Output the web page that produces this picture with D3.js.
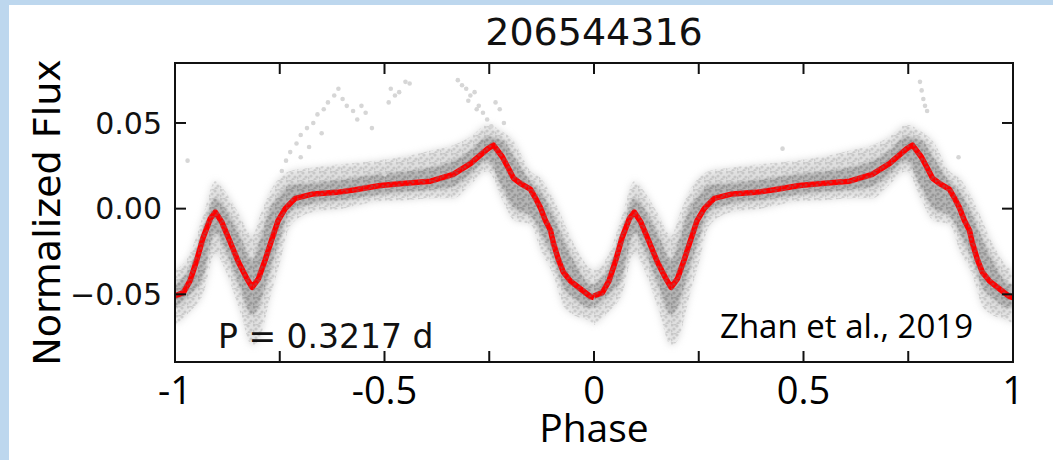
<!DOCTYPE html>
<html>
<head>
<meta charset="utf-8">
<script src="https://cdn.jsdelivr.net/npm/d3@7"></script>
<style>
	body { margin: 0; background: #bdd7ee; }
	#graphic { position: absolute; left: 9px; top: 5px; width: 1044px; height: 455px; background: #fff; }
	svg { position: absolute; left: -9px; top: -5px; }
</style>
</head>
<body>
<div id="graphic"></div>
<script>
// one folded cycle of the binned light curve (phase 0..1), drawn at offsets -1 and 0
const cyclePhase = [0, 0.02, 0.036, 0.052, 0.067, 0.084, 0.096, 0.112, 0.131, 0.151, 0.172, 0.184, 0.199, 0.215, 0.231, 0.246, 0.263, 0.287, 0.33, 0.387, 0.43, 0.49, 0.55, 0.61, 0.664, 0.705, 0.746, 0.76, 0.781, 0.796, 0.808, 0.824, 0.848, 0.86, 0.872, 0.884, 0.896, 0.903, 0.915, 0.927, 0.944, 0.968, 0.992, 1];
const binnedFlux = [-0.051, -0.049, -0.042, -0.03, -0.017, -0.006, -0.002, -0.008, -0.019, -0.031, -0.041, -0.046, -0.041, -0.03, -0.018, -0.007, 0, 0.006, 0.0086, 0.0095, 0.011, 0.0135, 0.0148, 0.016, 0.02, 0.0263, 0.0349, 0.0371, 0.0303, 0.0234, 0.0177, 0.0148, 0.0114, 0.0063, 0.0006, -0.0069, -0.0126, -0.02, -0.0297, -0.0371, -0.0423, -0.0469, -0.0514, -0.052];

// extent of the raw photometry cloud for the same cycle
const cloudPhase = [0, 0.036, 0.067, 0.096, 0.12, 0.155, 0.184, 0.203, 0.227, 0.25, 0.275, 0.33, 0.4, 0.48, 0.56, 0.61, 0.664, 0.705, 0.746, 0.781, 0.81, 0.848, 0.872, 0.903, 0.927, 0.951, 0.992, 1];
const outerLo = [-0.068, -0.06, -0.05, -0.026, -0.036, -0.06, -0.08, -0.075, -0.052, -0.032, -0.01, -0.002, 0, 0.004, 0.005, 0.006, 0.006, 0.014, 0.022, 0.005, -0.007, -0.009, -0.024, -0.039, -0.057, -0.062, -0.066, -0.068];
const outerHi = [-0.036, -0.026, -0.004, 0.016, 0.01, -0.004, -0.016, -0.004, 0.01, 0.018, 0.022, 0.024, 0.026, 0.028, 0.031, 0.034, 0.037, 0.042, 0.049, 0.045, 0.039, 0.022, 0.018, 0.006, -0.007, -0.02, -0.035, -0.036];
const innerLo = [-0.058, -0.05, -0.04, -0.014, -0.024, -0.046, -0.062, -0.055, -0.036, -0.018, -0.002, 0.003, 0.005, 0.008, 0.01, 0.011, 0.013, 0.02, 0.028, 0.012, 0, -0.004, -0.014, -0.03, -0.046, -0.052, -0.058, -0.058];
const innerHi = [-0.044, -0.034, -0.012, 0.006, 0, -0.016, -0.03, -0.018, 0, 0.008, 0.014, 0.015, 0.017, 0.02, 0.022, 0.024, 0.028, 0.034, 0.042, 0.04, 0.03, 0.016, 0.01, -0.004, -0.018, -0.03, -0.044, -0.044];

// stray points above the curve
const strayPhase = [-0.97, -0.745, -0.735, -0.725, -0.71, -0.7, -0.7, -0.685, -0.68, -0.67, -0.66, -0.65, -0.645, -0.635, -0.62, -0.61, -0.6, -0.59, -0.575, -0.565, -0.555, -0.545, -0.53, -0.5, -0.49, -0.485, -0.475, -0.465, -0.45, -0.44, -0.325, -0.315, -0.305, -0.3, -0.295, -0.285, -0.28, -0.275, -0.265, -0.255, -0.245, -0.235, -0.225, -0.215, 0.45, 0.778, 0.782, 0.786, 0.79, 0.795, 0.87];
const strayFlux = [0.028, 0.022, 0.028, 0.033, 0.038, 0.043, 0.03, 0.047, 0.036, 0.05, 0.055, 0.044, 0.058, 0.062, 0.066, 0.07, 0.064, 0.06, 0.057, 0.052, 0.06, 0.056, 0.047, 0.02, 0.062, 0.07, 0.066, 0.068, 0.074, 0.073, 0.075, 0.072, 0.07, 0.063, 0.066, 0.068, 0.058, 0.06, 0.056, 0.052, 0.048, 0.062, 0.058, 0.05, 0.035, 0.074, 0.069, 0.064, 0.06, 0.057, 0.03];

const xTicks = [-1, -0.75, -0.5, -0.25, 0, 0.25, 0.5, 0.75, 1];
const xLabels = [-1, -0.5, 0, 0.5, 1];
const yTicks = [0.05, 0, -0.05];

const offsets = [-1, 0];

let svg = d3.select('#graphic')
	.append('svg')
	.attr('width', 1053)
	.attr('height', 460);

let margin = { left: 175, right: 40, top: 63, bottom: 98 };
let x = d3.scaleLinear().domain([-1, 1]).range([margin.left, 1053 - margin.right]);
let y = d3.scaleLinear().domain([-0.0895, 0.085]).range([460 - margin.bottom, margin.top]);

let defs = svg.append('defs');
defs.append('clipPath').attr('id', 'plotclip')
	.append('rect')
	.attr('x', x(-1)).attr('y', y(0.085))
	.attr('width', x(1) - x(-1)).attr('height', y(-0.0895) - y(0.085));
defs.append('filter').attr('id', 'soft').attr('x', '-5%').attr('y', '-20%').attr('width', '110%').attr('height', '140%')
	.append('feGaussianBlur').attr('stdDeviation', 3.5);
defs.append('filter').attr('id', 'soft2')
	.append('feGaussianBlur').attr('stdDeviation', 1.5);

// speckle texture so the cloud reads as scattered points
let speckle = defs.append('pattern')
	.attr('id', 'speckle')
	.attr('patternUnits', 'userSpaceOnUse')
	.attr('width', 11).attr('height', 9);
[[1, 1], [6, 2], [3, 5], [9, 6], [0, 7], [7, 8.5], [4, 0]].forEach(function (c) {
	speckle.append('circle').attr('cx', c[0]).attr('cy', c[1]).attr('r', 1.6).attr('fill', '#7a7a7a');
});

let plot = svg.append('g').attr('clip-path', 'url(#plotclip)');

// gray cloud, outer then denser core
offsets.forEach(function (off) {
	let band = cloudPhase.map((p, i) => ({ p: p + off, lo: outerLo[i], hi: outerHi[i], ilo: innerLo[i], ihi: innerHi[i] }));
	let outer = d3.area().x(d => x(d.p)).y0(d => y(d.lo)).y1(d => y(d.hi)).curve(d3.curveMonotoneX);
	plot.append('path')
		.datum(band)
		.attr('d', outer)
		.attr('fill', '#c4c4c4')
		.attr('opacity', 0.55)
		.attr('filter', 'url(#soft)');
	plot.append('path')
		.datum(band)
		.attr('d', outer)
		.attr('fill', 'url(#speckle)')
		.attr('opacity', 0.25);
	plot.append('path')
		.datum(band)
		.attr('d', d3.area().x(d => x(d.p)).y0(d => y(d.ilo)).y1(d => y(d.ihi)).curve(d3.curveMonotoneX))
		.attr('fill', '#8c8c8c')
		.attr('opacity', 0.5)
		.attr('filter', 'url(#soft2)');
});

// stray points
plot.selectAll('circle.stray')
	.data(strayPhase.map((p, i) => ({ p: p, f: strayFlux[i] })))
	.join('circle')
	.attr('class', 'stray')
	.attr('cx', d => x(d.p))
	.attr('cy', d => y(d.f))
	.attr('r', 2.3)
	.attr('fill', '#d6d6d6');

// binned red curve
offsets.forEach(function (off) {
	let pts = cyclePhase.map((p, i) => ({ p: p + off, f: binnedFlux[i] }));
	plot.append('path')
		.datum(pts)
		.attr('d', d3.line().x(d => x(d.p)).y(d => y(d.f)))
		.attr('fill', 'none')
		.attr('stroke', '#ff0000')
		.attr('stroke-width', 5.5)
		.attr('stroke-linejoin', 'round');
});

// light gray veil over the curve
offsets.forEach(function (off) {
	let band = cloudPhase.map((p, i) => ({ p: p + off, lo: innerLo[i], hi: innerHi[i] }));
	plot.append('path')
		.datum(band)
		.attr('d', d3.area().x(d => x(d.p)).y0(d => y(d.lo)).y1(d => y(d.hi)).curve(d3.curveMonotoneX))
		.attr('fill', 'url(#speckle)')
		.attr('opacity', 0.35);
});

// frame
svg.append('rect')
	.attr('x', x(-1)).attr('y', y(0.085))
	.attr('width', x(1) - x(-1)).attr('height', y(-0.0895) - y(0.085))
	.attr('fill', 'none')
	.attr('stroke', '#111')
	.attr('stroke-width', 2);

// inward ticks on all four sides
let tickLen = 11;
svg.append('g').selectAll('line')
	.data(xTicks)
	.join('line')
	.attr('x1', d => x(d)).attr('x2', d => x(d))
	.attr('y1', y(-0.0895)).attr('y2', y(-0.0895) - tickLen)
	.attr('stroke', '#111').attr('stroke-width', 2);
svg.append('g').selectAll('line')
	.data(xTicks)
	.join('line')
	.attr('x1', d => x(d)).attr('x2', d => x(d))
	.attr('y1', y(0.085)).attr('y2', y(0.085) + tickLen)
	.attr('stroke', '#111').attr('stroke-width', 2);
svg.append('g').selectAll('line')
	.data(yTicks)
	.join('line')
	.attr('x1', x(-1)).attr('x2', x(-1) + tickLen)
	.attr('y1', d => y(d)).attr('y2', d => y(d))
	.attr('stroke', '#111').attr('stroke-width', 2);
svg.append('g').selectAll('line')
	.data(yTicks)
	.join('line')
	.attr('x1', x(1)).attr('x2', x(1) - tickLen)
	.attr('y1', d => y(d)).attr('y2', d => y(d))
	.attr('stroke', '#111').attr('stroke-width', 2);

// y tick labels (matplotlib style)
svg.append('g').selectAll('text')
	.data(yTicks)
	.join('text')
	.attr('x', x(-1) - 13)
	.attr('y', d => y(d))
	.attr('dy', '0.36em')
	.attr('text-anchor', 'end')
	.style('font-family', 'DejaVu Sans')
	.style('font-size', '30px')
	.attr('fill', '#111')
	.text(d => d3.format('.2f')(d).replace('-', '\u2212'));

// x tick labels (overlaid in a different face)
svg.append('g').selectAll('text')
	.data(xLabels)
	.join('text')
	.attr('x', d => x(d))
	.attr('y', 404)
	.attr('text-anchor', 'middle')
	.style('font-family', 'Open Sans')
	.style('font-size', '38px')
	.attr('fill', '#000')
	.text(d => String(d));

svg.append('text')
	.attr('x', (x(-1) + x(1)) / 2)
	.attr('y', 442)
	.attr('text-anchor', 'middle')
	.style('font-family', 'Open Sans')
	.style('font-size', '39px')
	.attr('fill', '#000')
	.text('Phase');

svg.append('text')
	.attr('transform', 'translate(60,' + (y(-0.0895) + y(0.085)) / 2 + ') rotate(-90)')
	.attr('text-anchor', 'middle')
	.style('font-family', 'DejaVu Sans')
	.style('font-size', '38px')
	.attr('fill', '#000')
	.text('Normalized Flux');

svg.append('text')
	.attr('x', (x(-1) + x(1)) / 2)
	.attr('y', 45)
	.attr('text-anchor', 'middle')
	.style('font-family', 'DejaVu Sans')
	.style('font-size', '38px')
	.attr('fill', '#111')
	.text('206544316');

svg.append('text')
	.attr('x', 218)
	.attr('y', 348)
	.style('font-family', 'DejaVu Sans')
	.style('font-size', '33px')
	.attr('fill', '#111')
	.text('P = 0.3217 d');

svg.append('text')
	.attr('x', 720)
	.attr('y', 338)
	.style('font-family', 'Open Sans')
	.style('font-size', '33px')
	.attr('fill', '#000')
	.text('Zhan et al., 2019');
</script>
</body>
</html>
